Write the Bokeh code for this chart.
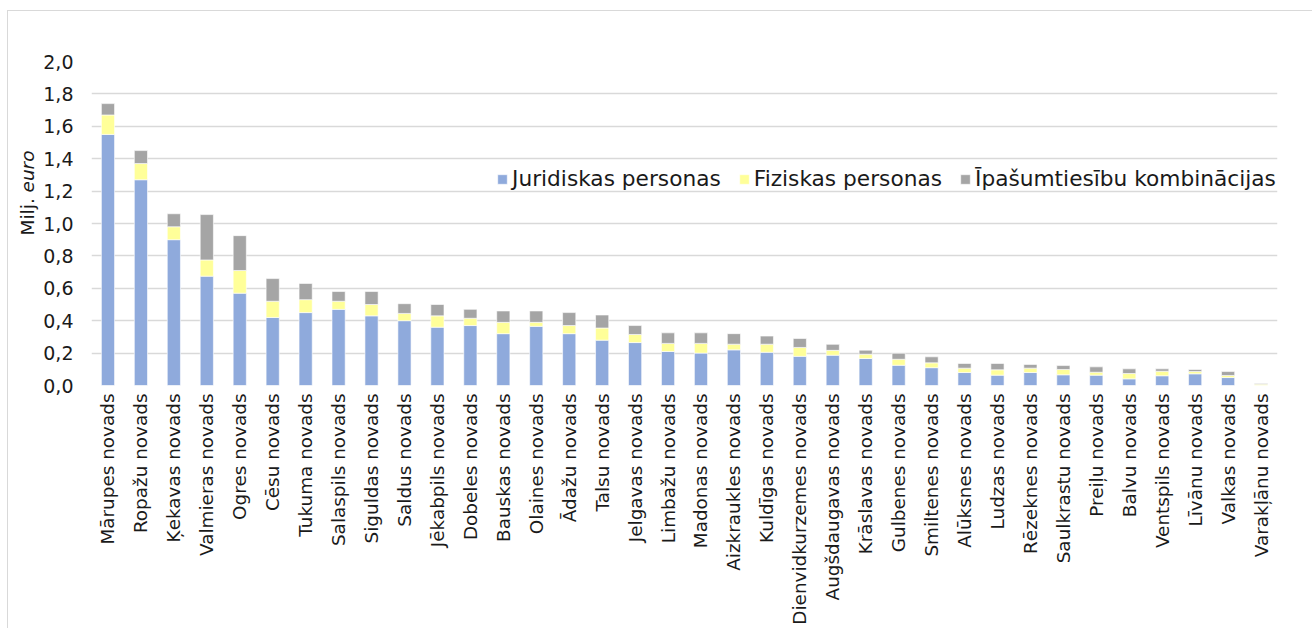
from math import pi

from bokeh.embed import file_html
from bokeh.models import (CustomJSTickFormatter, FactorRange, FixedTicker, Label,
                          Legend)
from bokeh.plotting import figure
from bokeh.resources import INLINE

# Municipalities, in descending order of total
categories = [
    "Mārupes novads", "Ropažu novads", "Ķekavas novads", "Valmieras novads",
    "Ogres novads", "Cēsu novads", "Tukuma novads", "Salaspils novads",
    "Siguldas novads", "Saldus novads", "Jēkabpils novads", "Dobeles novads",
    "Bauskas novads", "Olaines novads", "Ādažu novads", "Talsu novads",
    "Jelgavas novads", "Limbažu novads", "Madonas novads", "Aizkraukles novads",
    "Kuldīgas novads", "Dienvidkurzemes novads", "Augšdaugavas novads",
    "Krāslavas novads", "Gulbenes novads", "Smiltenes novads", "Alūksnes novads",
    "Ludzas novads", "Rēzeknes novads", "Saulkrastu novads", "Preiļu novads",
    "Balvu novads", "Ventspils novads", "Līvānu novads", "Valkas novads",
    "Varakļānu novads",
]

# Million euro by owner type
juridiskas = [1.55, 1.27, 0.90, 0.675, 0.57, 0.42, 0.45, 0.47, 0.43, 0.40,
              0.36, 0.37, 0.32, 0.365, 0.32, 0.28, 0.265, 0.21, 0.20, 0.22,
              0.205, 0.18, 0.187, 0.167, 0.125, 0.11, 0.08, 0.064, 0.08, 0.066,
              0.064, 0.041, 0.06, 0.072, 0.049, 0.0]
fiziskas = [0.12, 0.10, 0.08, 0.10, 0.14, 0.10, 0.08, 0.05, 0.07, 0.045,
            0.07, 0.045, 0.07, 0.025, 0.05, 0.075, 0.05, 0.05, 0.06, 0.035,
            0.05, 0.055, 0.03, 0.026, 0.037, 0.03, 0.027, 0.033, 0.027, 0.033,
            0.018, 0.033, 0.028, 0.014, 0.013, 0.008]
kombinacijas = [0.07, 0.08, 0.08, 0.28, 0.215, 0.14, 0.10, 0.06, 0.08, 0.06,
                0.07, 0.055, 0.07, 0.07, 0.08, 0.08, 0.055, 0.065, 0.065, 0.065,
                0.05, 0.055, 0.037, 0.025, 0.037, 0.037, 0.029, 0.039, 0.023,
                0.024, 0.033, 0.029, 0.015, 0.013, 0.024, 0.004]

series_names = ["Juridiskas personas", "Fiziskas personas",
                "Īpašumtiesību kombinācijas"]
series_keys = ["juridiskas", "fiziskas", "kombinacijas"]
series_colors = ["#8faadc", "#ffff99", "#a5a5a5"]

y_ticks = [0.0, 0.2, 0.4, 0.6, 0.8, 1.0, 1.2, 1.4, 1.6, 1.8, 2.0]

FONT = "DejaVu Sans"
TEXT = "#1a1a1a"
GRID = "#d9d9d9"

data = dict(categories=categories, juridiskas=juridiskas, fiziskas=fiziskas,
            kombinacijas=kombinacijas)

p = figure(
    x_range=FactorRange(*categories),
    y_range=(0, 2.0),
    width=1305, height=618,
    min_border_left=83, min_border_right=36,
    min_border_top=50, min_border_bottom=244,
    output_backend="svg", toolbar_location=None,
    margin=(10, 0, 0, 7),
    styles={"border-left": "1px solid #d9d9d9", "border-top": "1px solid #d9d9d9"},
)
p.outline_line_color = None
p.background_fill_color = "white"
p.border_fill_color = "white"

renderers = p.vbar_stack(series_keys, x="categories", width=0.4,
                         color=series_colors, source=data,
                         line_color="white", line_width=0.6)

# Axes
p.xaxis.axis_line_color = None
p.xaxis.major_tick_line_color = None
p.xaxis.minor_tick_line_color = None
p.xaxis.major_tick_out = 0
p.xaxis.major_label_orientation = pi / 2
p.xaxis.major_label_standoff = 8
p.xaxis.major_label_text_font = FONT
p.xaxis.major_label_text_font_size = "18.4px"
p.xaxis.major_label_text_color = TEXT

p.yaxis.ticker = FixedTicker(ticks=y_ticks)
p.yaxis.formatter = CustomJSTickFormatter(
    code="return tick.toFixed(1).replace('.', ',');")
p.yaxis.axis_line_color = None
p.yaxis.major_tick_line_color = None
p.yaxis.minor_tick_line_color = None
p.yaxis.major_tick_out = 0
p.yaxis.major_label_standoff = 18
p.yaxis.major_label_text_font = FONT
p.yaxis.major_label_text_font_size = "19px"
p.yaxis.major_label_text_color = TEXT

p.xgrid.grid_line_color = None
p.ygrid.grid_line_color = GRID
p.ygrid.grid_line_width = 1.5

# Y axis title: "Milj." upright, "euro" italic (canvas pixels, y downwards).
# Each part sits in its own side panel so that it is not clipped to the frame
# and neither panel has to grow.
p.add_layout(Label(x=18, y=223, x_units="canvas", y_units="canvas",
                   text="Milj.", angle=pi / 2, text_align="left",
                   text_baseline="middle", text_font=FONT,
                   text_font_size="18.5px", text_color=TEXT), "above")
p.add_layout(Label(x=18, y=180, x_units="canvas", y_units="canvas",
                   text="euro", angle=pi / 2, text_align="left",
                   text_baseline="middle", text_font=FONT,
                   text_font_style="italic",
                   text_font_size="18.5px", text_color=TEXT), "right")

legend = Legend(
    items=[(name, [r]) for name, r in zip(series_names, renderers)],
    orientation="horizontal",
    location=(405, 194),
    glyph_width=12, glyph_height=12,
    label_standoff=4, spacing=17,
    padding=0, margin=0,
    border_line_color=None,
    background_fill_alpha=0,
    label_text_font=FONT,
    label_text_font_size="21.7px",
    label_text_color=TEXT,
)
p.add_layout(legend)

open("out.html", "w").write(file_html(p, INLINE))
